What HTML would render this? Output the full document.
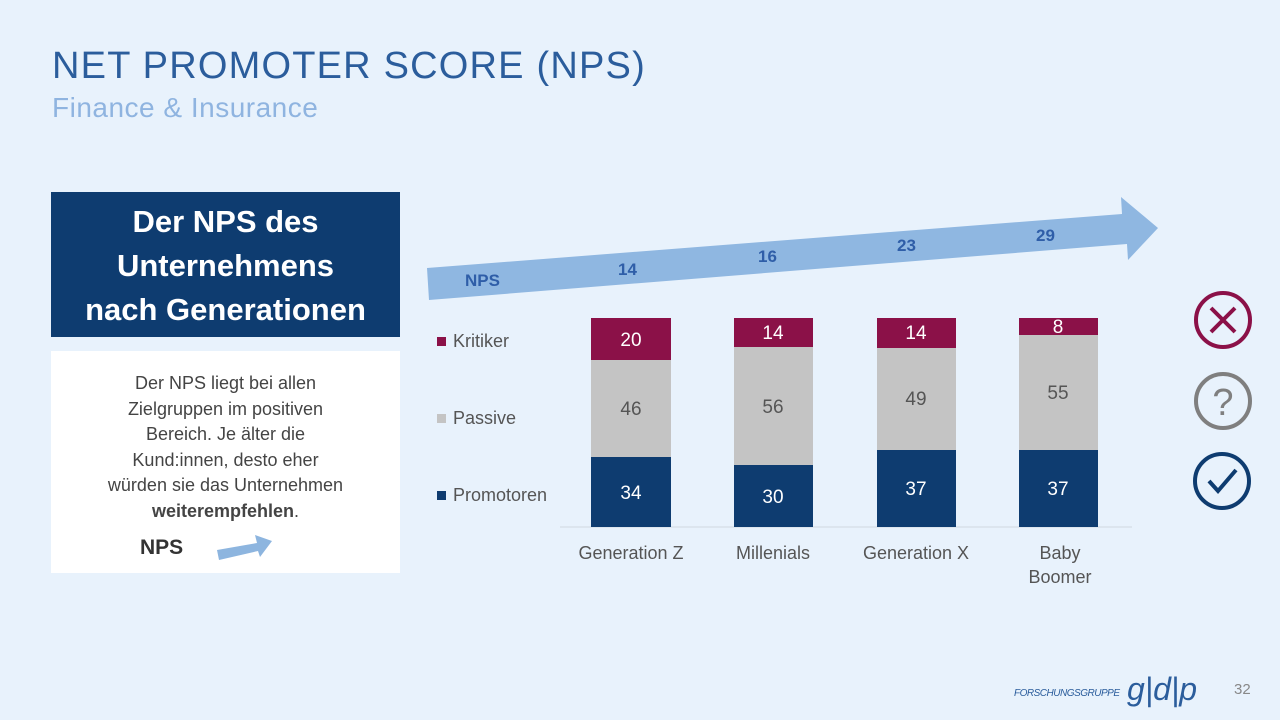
<!DOCTYPE html>
<html><head><meta charset="utf-8"><style>
body{margin:0;width:1280px;height:720px;background:#e8f2fc;font-family:"Liberation Sans",sans-serif;overflow:hidden;position:relative}
.a{position:absolute}
</style></head><body>
<div class="a" style="left:52px;top:45px;font-size:38px;color:#2b5d9c;letter-spacing:1.2px">NET PROMOTER SCORE (NPS)</div>
<div class="a" style="left:52px;top:92px;font-size:28px;color:#8fb4e0;letter-spacing:0.5px">Finance &amp; Insurance</div>
<div class="a" style="left:51px;top:192px;width:349px;height:145px;background:#0e3c70;color:#fff;font-weight:bold;font-size:31px;text-align:center;line-height:44px;padding-top:8px;box-sizing:border-box">Der NPS des<br>Unternehmens<br>nach Generationen</div>
<div class="a" style="left:51px;top:351px;width:349px;height:222px;background:#fff"></div>
<div class="a" style="left:51px;top:371px;width:349px;text-align:center;font-size:18px;line-height:25.5px;color:#444">Der NPS liegt bei allen<br>Zielgruppen im positiven<br>Bereich. Je älter die<br>Kund:innen, desto eher<br>würden sie das Unternehmen<br><b>weiterempfehlen</b>.</div>
<div class="a" style="left:140px;top:536px;font-size:21px;font-weight:bold;color:#333">NPS</div>
<svg class="a" style="left:0;top:0" width="1280" height="720">
<polygon points="217,550 257,543 255,535 272,541 260,557 258,551 219,560" fill="#8db5df"/>
<polygon points="427,268 1122,214 1121,197 1158,228 1128,260 1127,244 429,300" fill="#8fb7e1"/>
<g font-weight="bold" font-size="17" fill="#2f5ea8" font-family="Liberation Sans">
<text x="465" y="286">NPS</text><text x="618" y="275">14</text><text x="758" y="262">16</text><text x="897" y="251">23</text><text x="1036" y="241">29</text></g>
<line x1="560" y1="527" x2="1132" y2="527" stroke="#d0d8e0"/>
<g font-size="19" text-anchor="middle" fill="#fff">
<rect x="591" y="318" width="80" height="42" fill="#8b1148"/><rect x="591" y="360" width="80" height="97" fill="#c4c4c4"/><rect x="591" y="457" width="80" height="70" fill="#0e3c70"/>
<text x="631" y="346">20</text><text x="631" y="415" fill="#555">46</text><text x="631" y="499">34</text>
<rect x="734" y="318" width="79" height="29" fill="#8b1148"/><rect x="734" y="347" width="79" height="118" fill="#c4c4c4"/><rect x="734" y="465" width="79" height="62" fill="#0e3c70"/>
<text x="773" y="339">14</text><text x="773" y="413" fill="#555">56</text><text x="773" y="503">30</text>
<rect x="877" y="318" width="79" height="30" fill="#8b1148"/><rect x="877" y="348" width="79" height="102" fill="#c4c4c4"/><rect x="877" y="450" width="79" height="77" fill="#0e3c70"/>
<text x="916" y="339">14</text><text x="916" y="405" fill="#555">49</text><text x="916" y="495">37</text>
<rect x="1019" y="318" width="79" height="17" fill="#8b1148"/><rect x="1019" y="335" width="79" height="115" fill="#c4c4c4"/><rect x="1019" y="450" width="79" height="77" fill="#0e3c70"/>
<text x="1058" y="333">8</text><text x="1058" y="399" fill="#555">55</text><text x="1058" y="495">37</text>
</g>
<g font-size="18" fill="#555">
<rect x="437" y="337" width="9" height="9" fill="#8b1148"/><text x="453" y="347">Kritiker</text>
<rect x="437" y="414" width="9" height="9" fill="#c4c4c4"/><text x="453" y="424">Passive</text>
<rect x="437" y="491" width="9" height="9" fill="#0e3c70"/><text x="453" y="501">Promotoren</text>
<g text-anchor="middle"><text x="631" y="559">Generation Z</text><text x="773" y="559">Millenials</text><text x="916" y="559">Generation X</text><text x="1060" y="559">Baby</text><text x="1060" y="583">Boomer</text></g>
</g>
<circle cx="1223" cy="320" r="27" fill="none" stroke="#8b1148" stroke-width="4"/>
<path d="M1211 308 L1235 332 M1235 308 L1211 332" stroke="#8b1148" stroke-width="4"/>
<circle cx="1223" cy="401" r="27" fill="none" stroke="#7f7f7f" stroke-width="4"/>
<text x="1223" y="415" text-anchor="middle" font-size="38" fill="#7f7f7f">?</text>
<circle cx="1222" cy="481" r="27" fill="none" stroke="#0e3c70" stroke-width="4"/>
<path d="M1209 481 L1218 491 L1236 470" fill="none" stroke="#0e3c70" stroke-width="4"/>
<text x="1014" y="696" font-size="10" font-style="italic" fill="#2b5d9c" textLength="106">FORSCHUNGSGRUPPE</text>
<text x="1127" y="700" font-size="32" font-style="italic" fill="#2b5d9c">g|d|p</text>
<text x="1234" y="694" font-size="15" fill="#888">32</text>
</svg>
</body></html>
